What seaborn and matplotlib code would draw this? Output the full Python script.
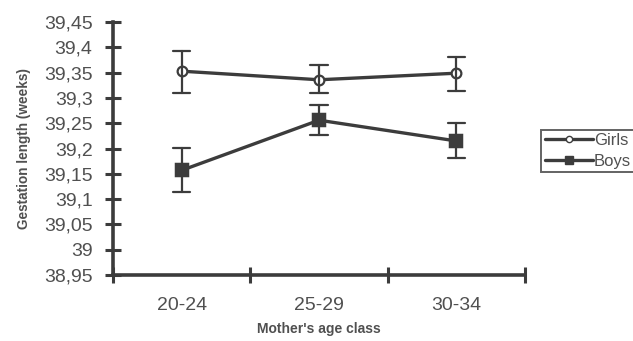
import pandas as pd
import matplotlib
matplotlib.use("Agg")
import matplotlib.pyplot as plt
import seaborn as sns

# values (mean, lower and upper end of error bar)
age_classes = ["20-24", "25-29", "30-34"]
girls_mean = [39.353, 39.336, 39.349]
girls_low = [39.310, 39.310, 39.313]
girls_high = [39.393, 39.365, 39.381]
boys_mean = [39.157, 39.256, 39.215]
boys_low = [39.114, 39.227, 39.182]
boys_high = [39.201, 39.286, 39.250]
y_ticks = [38.95, 39.0, 39.05, 39.1, 39.15, 39.2, 39.25, 39.3, 39.35, 39.4, 39.45]

rows = []
for sex, lo, mid, hi in [("Girls", girls_low, girls_mean, girls_high),
                         ("Boys", boys_low, boys_mean, boys_high)]:
    for i, age in enumerate(age_classes):
        for v in (lo[i], mid[i], hi[i]):
            rows.append({"age": age, "sex": sex, "weeks": v})
df = pd.DataFrame(rows)

sns.set_style("white")
plt.rcParams["font.family"] = ["Liberation Sans", "DejaVu Sans"]
ink = "#3c3c3c"
txt = "#505050"

fig = plt.figure(figsize=(6.33, 3.41), dpi=100)
ax = fig.add_axes([0.179, 0.194, 0.650, 0.741])

# median of (low, mean, high) gives the mean; min/max give the error bar ends
common = dict(data=df, x="age", y="weeks", order=age_classes,
              estimator="median", errorbar=lambda v: (v.min(), v.max()),
              capsize=0.125, err_kws={"linewidth": 1.6, "color": ink},
              linewidth=2.4, ax=ax)
sns.pointplot(**common, hue="sex", hue_order=["Girls"], palette=[ink],
              markers="o", markersize=7, markerfacecolor="white",
              markeredgecolor=ink, markeredgewidth=1.6, legend=False)
sns.pointplot(**common, hue="sex", hue_order=["Boys"], palette=[ink],
              markers="s", markersize=8.5, legend=False)

ax.set_xlim(-0.5, 2.5)
ax.set_ylim(38.95, 39.45)
ax.set_yticks(y_ticks)
ax.set_yticklabels([f"{t:g}".replace(".", ",") for t in y_ticks],
                   fontsize=14, color=txt)
ax.set_xticks([-0.5, 0.5, 1.5, 2.5])
ax.set_xticklabels([])
ax.set_xticks(range(len(age_classes)), minor=True)
ax.set_xticklabels(age_classes, minor=True, fontsize=14, color=txt)
ax.tick_params(axis="both", which="major", direction="inout", length=12,
               width=2.2, color=ink, left=True, bottom=True)
ax.tick_params(axis="y", pad=9)
ax.tick_params(axis="x", which="minor", length=0, pad=16, bottom=True)

for side in ("top", "right"):
    ax.spines[side].set_visible(False)
for side in ("left", "bottom"):
    ax.spines[side].set_color(ink)
    ax.spines[side].set_linewidth(2.6)

ax.set_xlabel("Mother's age class", fontsize=10, fontweight="bold",
              color=txt, labelpad=6)
ax.set_ylabel("Gestation length (weeks)", fontsize=9.8, fontweight="bold",
              color=txt, labelpad=9)

handles = [plt.Line2D([], [], color=ink, lw=2.4, marker="o", markersize=4.5,
                      markerfacecolor="white", markeredgecolor=ink),
           plt.Line2D([], [], color=ink, lw=2.4, marker="s", markersize=6)]
leg = ax.legend(handles, ["Girls", "Boys"], loc="center left",
                bbox_to_anchor=(1.04, 0.49), frameon=True, fancybox=False,
                fontsize=12, handlelength=2.9, handletextpad=0.05,
                borderpad=0.2, labelspacing=0.35, borderaxespad=0)
leg.get_frame().set_edgecolor(ink)
leg.get_frame().set_linewidth(1.4)
for t in leg.get_texts():
    t.set_color(txt)

fig.savefig("out.png", dpi=100)
